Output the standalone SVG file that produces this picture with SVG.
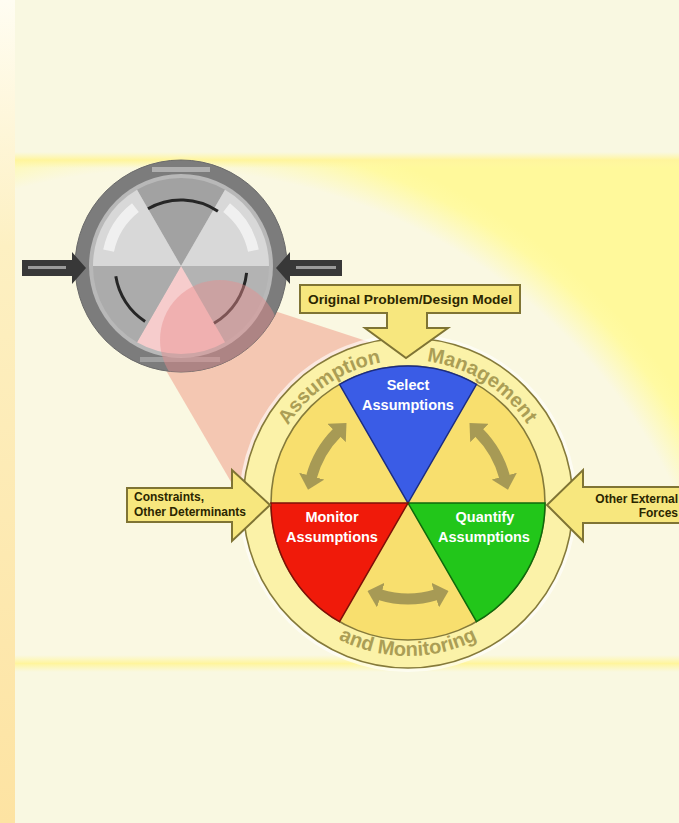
<svg xmlns="http://www.w3.org/2000/svg" width="679" height="823" viewBox="0 0 679 823">
  <defs>
    <style>
      .lbl { font-family: "Liberation Sans", Arial, sans-serif; font-weight: bold; }
      .box { fill: #f7e77e; stroke: #7f7434; stroke-width: 2; stroke-linejoin: miter; }
      .boxtext { font-size: 12px; fill: #2b2600; }
      .wedgetext { font-size: 14.5px; fill: #ffffff; text-anchor: middle; }
      .ringtext { font-size: 20px; fill: #ab9e55; }
      .cycle { fill: none; stroke: #a79a55; stroke-width: 11; marker-start: url(#cyclehead); marker-end: url(#cyclehead); }
      .olive { fill: none; stroke: #857a3a; stroke-width: 1.6; }
      .darkarc { fill: none; stroke: #262626; stroke-width: 3; }
      .whiteband { fill: none; stroke: #f4f4f4; stroke-width: 11; opacity: 0.85; }
    </style>
    <linearGradient id="sideStrip" x1="0" y1="0" x2="0" y2="1">
      <stop offset="0" stop-color="#fffdf2"/>
      <stop offset="0.3" stop-color="#fdf0c2"/>
      <stop offset="1" stop-color="#fde3a2"/>
    </linearGradient>
    <radialGradient id="bandGlow" gradientUnits="userSpaceOnUse" cx="164" cy="737" r="620">
      <stop offset="0" stop-color="#faf8e2"/>
      <stop offset="0.915" stop-color="#faf8e2"/>
      <stop offset="0.975" stop-color="#fffaa2"/>
      <stop offset="1" stop-color="#fff99b"/>
    </radialGradient>
    <linearGradient id="edgeLine" x1="0" y1="0" x2="0" y2="1">
      <stop offset="0" stop-color="#fff7a6" stop-opacity="0"/>
      <stop offset="0.5" stop-color="#fff59c"/>
      <stop offset="1" stop-color="#fff7a6" stop-opacity="0"/>
    </linearGradient>
    <marker id="cyclehead" viewBox="0 0 14 26" refX="1" refY="13" markerWidth="14" markerHeight="26" markerUnits="userSpaceOnUse" orient="auto-start-reverse">
      <path d="M0,0 L14,13 L0,26 Z" fill="#a79a55"/>
    </marker>
    <clipPath id="miniClip">
      <circle cx="181" cy="266" r="106"/>
    </clipPath>
  </defs>

  <!-- page background -->
  <rect x="0" y="0" width="679" height="823" fill="#f9f8e1"/>
  <rect x="0" y="0" width="15" height="823" fill="url(#sideStrip)"/>
  <rect x="15" y="160" width="664" height="504" fill="url(#bandGlow)"/>
  <rect x="15" y="152" width="664" height="16" fill="url(#edgeLine)"/>
  <rect x="15" y="655" width="664" height="17" fill="url(#edgeLine)"/>

  <!-- zoom beam from the overview wheel to the detail wheel -->
  <g id="beam">
    <polygon points="150,343 250,303 400,352 408,503 262,535" fill="#f3c2ae" opacity="0.92"/>
  </g>

  <!-- overview wheel (greyed) -->
  <g id="overview">
    <circle cx="181" cy="266" r="106" fill="#7c7c7c" stroke="#6a6a6a" stroke-width="1"/>
    <circle cx="181" cy="266" r="92" fill="#b8b8b8"/>
    <path d="M181,266 L137,189.79 A88,88 0 0 1 225,189.79 Z" fill="#a2a2a2"/>
    <path d="M181,266 L225,189.79 A88,88 0 0 1 269,266 Z" fill="#d8d8d8"/>
    <path d="M181,266 L269,266 A88,88 0 0 1 225,342.21 Z" fill="#b3b3b3"/>
    <path d="M181,266 L225,342.21 A88,88 0 0 1 137,342.21 Z" fill="#f6cccc"/>
    <path d="M181,266 L137,342.21 A88,88 0 0 1 93,266 Z" fill="#ababab"/>
    <path d="M181,266 L93,266 A88,88 0 0 1 137,189.79 Z" fill="#d8d8d8"/>
    <path class="whiteband" d="M108.6,250.6 A74,74 0 0 1 135.4,207.7"/>
    <path class="whiteband" d="M226.6,207.7 A74,74 0 0 1 253.4,250.6"/>
    <path class="darkarc" d="M148,208.8 A66,66 0 0 1 217.9,211.3"/>
    <path class="darkarc" d="M145.1,321.4 A66,66 0 0 1 115.8,276.3"/>
    <path class="darkarc" d="M246.6,272.9 A66,66 0 0 1 214,323.2"/>
    <rect x="152" y="167" width="58" height="5" fill="#c4c4c4" opacity="0.7"/>
    <rect x="140" y="357" width="80" height="5" fill="#c4c4c4" opacity="0.5"/>
    <!-- highlighted region of the overview -->
    <circle cx="220" cy="340" r="60" fill="#e88f8f" opacity="0.45" clip-path="url(#miniClip)"/>
    <path d="M22,260 H72 V252 L86,268 L72,284 V276 H22 Z" fill="#383838"/>
    <rect x="28" y="266" width="38" height="3" fill="#9a9a9a"/>
    <path d="M342,260 H290 V252 L276,268 L290,284 V276 H342 Z" fill="#383838"/>
    <rect x="296" y="266" width="40" height="3" fill="#9a9a9a"/>
  </g>

  <!-- detail wheel -->
  <g id="wheel">
    <circle cx="408" cy="503" r="167" fill="none" stroke="#ffffff" stroke-width="4" opacity="0.6"/>
    <circle cx="408" cy="503" r="165" fill="#fbf2a8"/>
    <circle class="olive" cx="408" cy="503" r="165"/>
    <circle cx="408" cy="503" r="137" fill="#f8df6e"/>
    <circle class="olive" cx="408" cy="503" r="137"/>
    <path id="topArc" d="M265,503 A143,143 0 0 1 551,503" fill="none"/>
    <path id="bottomArc" d="M255,503 A153,153 0 0 0 561,503" fill="none"/>
    <text class="lbl ringtext" text-anchor="middle"><textPath href="#topArc" startOffset="31.1%">Assumption</textPath></text>
    <text class="lbl ringtext" text-anchor="middle"><textPath href="#topArc" startOffset="67.8%">Management</textPath></text>
    <text class="lbl ringtext" text-anchor="middle"><textPath href="#bottomArc" startOffset="50%">and Monitoring</textPath></text>
  </g>

  <g id="select">
    <path d="M408,503 L339.5,384.35 A137,137 0 0 1 476.5,384.35 Z" fill="#3a5ce6" stroke="#1b2c82" stroke-width="1.5"/>
    <text class="lbl wedgetext" x="408" y="390">Select</text>
    <text class="lbl wedgetext" x="408" y="410">Assumptions</text>
  </g>
  <g id="quantify">
    <path d="M408,503 L545,503 A137,137 0 0 1 476.5,621.65 Z" fill="#22c61a" stroke="#0f6a0c" stroke-width="1.5"/>
    <text class="lbl wedgetext" x="485" y="522">Quantify</text>
    <text class="lbl wedgetext" x="484" y="542">Assumptions</text>
  </g>
  <g id="monitor">
    <path d="M408,503 L339.5,621.65 A137,137 0 0 1 271,503 Z" fill="#f01a0a" stroke="#7e1008" stroke-width="1.5"/>
    <text class="lbl wedgetext" x="332" y="522">Monitor</text>
    <text class="lbl wedgetext" x="332" y="542">Assumptions</text>
  </g>

  <!-- cycle arrows between the steps -->
  <g id="connectors">
    <path class="cycle" d="M311.4,477.1 A100,100 0 0 1 337.3,432.3"/>
    <path class="cycle" d="M478.7,432.3 A100,100 0 0 1 504.6,477.1"/>
    <path class="cycle" d="M436.1,594.8 A96,96 0 0 1 379.9,594.8"/>
  </g>

  <!-- external inputs -->
  <g id="original-model">
    <path class="box" d="M300,285 H520 V313 H427 V328 H448 L406,358 L365,328 H387 V313 H300 Z"/>
    <text class="lbl" x="410" y="304" font-size="13" fill="#2b2600" text-anchor="middle" textLength="204" lengthAdjust="spacingAndGlyphs">Original Problem/Design Model</text>
  </g>
  <g id="constraints">
    <path class="box" d="M127,488 H232 V470 L270,505 L232,541 V522 H127 Z"/>
    <text class="lbl boxtext" x="134" y="501">Constraints,</text>
    <text class="lbl boxtext" x="134" y="516">Other Determinants</text>
  </g>
  <g id="external-forces">
    <path class="box" d="M690,487 H583 V470 L547,505 L583,541 V523 H690 Z"/>
    <text class="lbl boxtext" x="678" y="503" text-anchor="end">Other External</text>
    <text class="lbl boxtext" x="678" y="517" text-anchor="end">Forces</text>
  </g>
</svg>
